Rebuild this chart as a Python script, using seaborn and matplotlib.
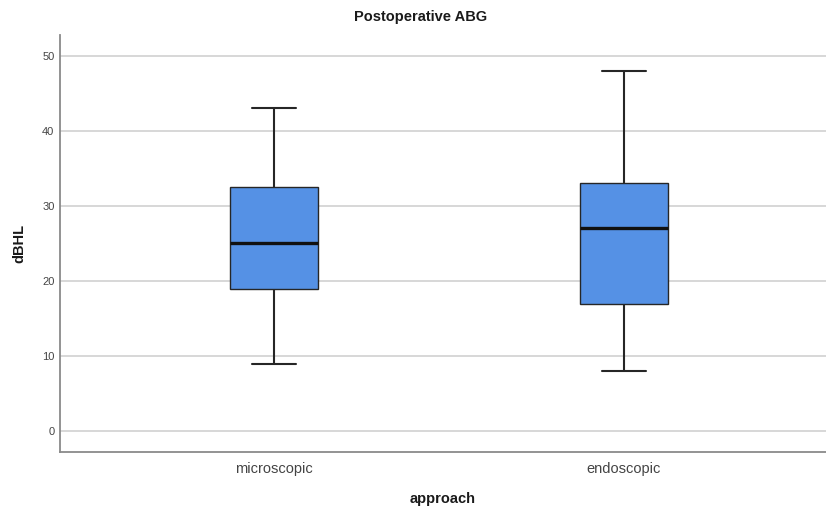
import matplotlib
matplotlib.use("Agg")
import matplotlib.pyplot as plt
import seaborn as sns
import pandas as pd

categories = ["microscopic", "endoscopic"]
# five-number summaries (min, Q1, median, Q3, max)
microscopic_vals = [9, 19, 25, 32.5, 43]
endoscopic_vals = [8, 17, 27, 33, 48]
y_ticks = [0, 10, 20, 30, 40, 50]

df = pd.DataFrame({
    "approach": [categories[0]] * len(microscopic_vals) + [categories[1]] * len(endoscopic_vals),
    "dBHL": microscopic_vals + endoscopic_vals,
})

sns.set_theme(style="white")
plt.rcParams["font.family"] = ["Liberation Sans", "DejaVu Sans"]

fig = plt.figure(figsize=(8.26, 5.11), dpi=100)
ax = fig.add_axes([60 / 826, 1 - 452 / 511, 1 - 60 / 826, (452 - 35) / 511])

sns.boxplot(
    data=df, x="approach", y="dBHL", order=categories, ax=ax,
    width=0.25, color="#5591E5", saturation=1, whis=1.5, showfliers=False,
    boxprops=dict(facecolor="#5591E5", edgecolor="#262626", linewidth=1.0),
    whiskerprops=dict(color="#262626", linewidth=1.5),
    capprops=dict(color="#262626", linewidth=1.5),
    medianprops=dict(color="#111111", linewidth=2.4),
    zorder=3,
)

ax.set_xlim(-0.611, 1.577)
ax.set_ylim(-2.8, 52.8)
ax.set_yticks(y_ticks)
ax.yaxis.grid(True, color="#d4d4d4", linewidth=1.3, zorder=0)
ax.set_axisbelow(True)
for s in ["top", "right"]:
    ax.spines[s].set_visible(False)
for s in ["left", "bottom"]:
    ax.spines[s].set_color("#8a8a8a")
    ax.spines[s].set_linewidth(1.3)

ax.tick_params(axis="y", labelsize=8, labelcolor="#444444", length=0, pad=4)
ax.tick_params(axis="x", labelsize=10.5, labelcolor="#444444", length=0, pad=7)

ax.set_xlabel("approach", fontsize=10.5, fontweight="bold", color="#1a1a1a", labelpad=12)
ax.set_ylabel("dBHL", fontsize=10.5, fontweight="bold", color="#1a1a1a", labelpad=11)
fig.text(421 / 826, 1 - 17 / 511, "Postoperative ABG", ha="center", va="center",
         fontsize=10.5, fontweight="bold", color="#1a1a1a")

fig.savefig("out.png", dpi=100)
